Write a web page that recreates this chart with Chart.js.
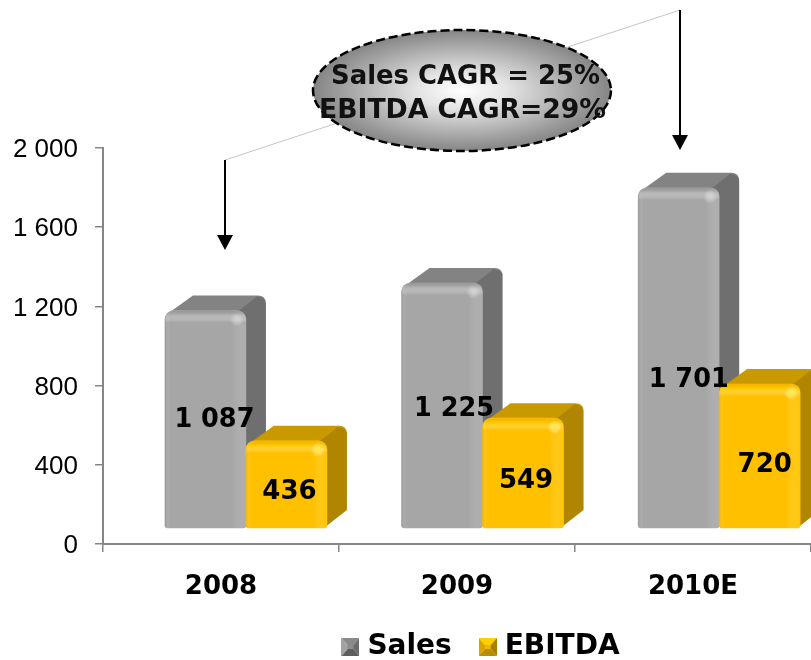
<!DOCTYPE html>
<html>
<head>
<meta charset="utf-8">
<style>html,body{margin:0;padding:0;background:#fff}canvas{display:block}</style>
<script src="https://cdn.jsdelivr.net/npm/chart.js@4"></script>
</head>
<body>
<canvas id="c" width="811" height="660"></canvas>
<script>
const categories = ['2008', '2009', '2010E'];
const salesValues = [1087, 1225, 1701];
const ebitdaValues = [436, 549, 720];
const yTickStep = 400;
const yMax = 2000;
const calloutLines = ['Sales CAGR = 25%', 'EBITDA CAGR=29%'];

const salesLabelShift = [[9, 1], [12, 4], [10, 22]];
const ebitdaLabelShift = [[3, 8], [3, 8], [5, 9]];

const BOLD = '"DejaVu Sans", sans-serif';
const fmt = v => String(v).replace(/\B(?=(\d{3})+(?!\d))/g, ' ');

function marker(left, top, right, bottom, core) {
  const s = 18, c = document.createElement('canvas');
  c.width = c.height = s;
  const g = c.getContext('2d');
  const tri = (col, pts) => {
    g.fillStyle = col; g.beginPath();
    pts.forEach((p, i) => i ? g.lineTo(p[0], p[1]) : g.moveTo(p[0], p[1]));
    g.closePath(); g.fill();
  };
  const m = [[6, 7], [12, 7], [12, 11], [6, 11]];
  tri(top, [[0, 0], [s, 0], m[1], m[0]]);
  tri(right, [[s, 0], [s, s], m[2], m[1]]);
  tri(bottom, [[s, s], [0, s], m[3], m[2]]);
  tri(left, [[0, s], [0, 0], m[0], m[3]]);
  tri(core, m);
  return c;
}
const salesMarker = marker('#a2a2a2', '#8a8a8a', '#6c6c6c', '#5e5e5e', '#8e8e8e');
const ebitdaMarker = marker('#d9a400', '#ffd000', '#a87f00', '#b88c00', '#f0b800');

const looks = [
  { top: '#838383', side: '#6f6f6f', edge: 'rgba(125,125,125,0.35)', shine: 'rgba(190,190,190,0.6)', soft: 'rgba(195,195,195,0.25)', glow: 'rgba(225,225,225,0.6)' },
  { top: '#c99a00', side: '#b08600', edge: 'rgba(225,160,0,0.35)', shine: 'rgba(255,208,0,0.7)', soft: 'rgba(255,212,0,0.35)', glow: 'rgba(255,236,40,0.9)' }
];

function drawDepth(ctx, el, look) {
  const l = el.x - el.width / 2, r = el.x + el.width / 2, t = el.y, b = el.base;
  const dx = 20, dy = 15, rad = 8;
  ctx.fillStyle = look.top;
  ctx.beginPath();
  ctx.moveTo(l + 3, t + 3);
  ctx.lineTo(l + 28, t - dy);
  ctx.lineTo(r + dx - rad, t - dy);
  ctx.quadraticCurveTo(r + dx, t - dy, r + dx, t - dy + rad);
  ctx.lineTo(r, t + 12);
  ctx.closePath();
  ctx.fill();
  ctx.fillStyle = look.side;
  ctx.beginPath();
  ctx.moveTo(r - 8, t + 1);
  ctx.lineTo(r + dx - 9, t - dy + 1);
  ctx.quadraticCurveTo(r + dx, t - dy + 2, r + dx, t - dy + rad + 1);
  ctx.lineTo(r + dx, b - 18);
  ctx.lineTo(r - 3, b);
  ctx.closePath();
  ctx.fill();
}

function drawBevel(ctx, el, look) {
  const l = el.x - el.width / 2, r = el.x + el.width / 2, t = el.y, b = el.base, w = el.width;
  ctx.save();
  ctx.beginPath();
  ctx.roundRect(l, t, w, b - t, [9, 9, 3, 3]);
  ctx.clip();
  let g = ctx.createLinearGradient(l, 0, l + 5, 0);
  g.addColorStop(0, look.edge);
  g.addColorStop(1, 'rgba(255,255,255,0)');
  ctx.fillStyle = g;
  ctx.fillRect(l, t, 5, b - t);
  g = ctx.createLinearGradient(r - 14, 0, r, 0);
  g.addColorStop(0, 'rgba(255,255,255,0)');
  g.addColorStop(1, look.soft);
  ctx.fillStyle = g;
  ctx.fillRect(r - 14, t, 14, b - t);
  g = ctx.createLinearGradient(0, t, 0, t + 12);
  g.addColorStop(0, look.edge);
  g.addColorStop(0.4, look.shine);
  g.addColorStop(1, 'rgba(255,255,255,0)');
  ctx.fillStyle = g;
  ctx.fillRect(l, t, w, 12);
  g = ctx.createRadialGradient(r - 9, t + 9, 0, r - 9, t + 9, 7);
  g.addColorStop(0, look.glow);
  g.addColorStop(1, 'rgba(255,255,255,0)');
  ctx.fillStyle = g;
  ctx.fillRect(r - 18, t, 18, 18);
  ctx.restore();
}

const depthBars = {
  id: 'depthBars',
  beforeDatasetsDraw(chart) {
    const ctx = chart.ctx;
    [0, 1].forEach(i => {
      const meta = chart.getDatasetMeta(i);
      meta.data.forEach(el => drawDepth(ctx, el, looks[i]));
      meta.controller.draw();
      meta.data.forEach(el => drawBevel(ctx, el, looks[i]));
    });
    return false;
  }
};

function arrow(ctx, x, y0, y1) {
  ctx.strokeStyle = '#000'; ctx.lineWidth = 2;
  ctx.beginPath(); ctx.moveTo(x, y0); ctx.lineTo(x, y1 - 12); ctx.stroke();
  ctx.fillStyle = '#000';
  ctx.beginPath(); ctx.moveTo(x - 8, y1 - 15); ctx.lineTo(x + 8, y1 - 15); ctx.lineTo(x, y1); ctx.closePath(); ctx.fill();
}

const annotations = {
  id: 'annotations',
  beforeDatasetsDraw(chart) {
    const ctx = chart.ctx;
    ctx.save();
    ctx.strokeStyle = '#c4c4c4'; ctx.lineWidth = 1;
    ctx.beginPath(); ctx.moveTo(225, 160); ctx.lineTo(680, 10); ctx.stroke();
    ctx.restore();
  },
  afterDraw(chart) {
    const ctx = chart.ctx;
    ctx.save();
    ctx.textAlign = 'center';
    ctx.textBaseline = 'middle';
    ctx.fillStyle = '#000';
    ctx.font = 'bold 26px ' + BOLD;
    [[salesValues, salesLabelShift, 0], [ebitdaValues, ebitdaLabelShift, 1]].forEach(([vals, shift, i]) => {
      chart.getDatasetMeta(i).data.forEach((el, k) => {
        ctx.fillText(fmt(vals[k]), el.x + shift[k][0], (el.y + el.base) / 2 + shift[k][1], i ? 56 : 80);
      });
    });
    arrow(ctx, 225, 160, 250);
    arrow(ctx, 680, 10, 150);

    const cx = 462, cy = 90.5, rx = 149, ry = 60.5;
    ctx.save();
    ctx.translate(cx, cy);
    ctx.scale(1, ry / rx);
    const g = ctx.createRadialGradient(0, 0, 0, 0, 0, rx);
    g.addColorStop(0, '#ffffff');
    g.addColorStop(0.3, '#e4e4e4');
    g.addColorStop(1, '#858585');
    ctx.fillStyle = g;
    ctx.beginPath(); ctx.arc(0, 0, rx, 0, Math.PI * 2); ctx.fill();
    ctx.restore();
    ctx.strokeStyle = '#000';
    ctx.lineWidth = 2.5;
    ctx.setLineDash([9, 4]);
    ctx.beginPath(); ctx.ellipse(cx, cy, rx, ry, 0, 0, Math.PI * 2); ctx.stroke();
    ctx.setLineDash([]);
    ctx.textBaseline = 'alphabetic';
    ctx.font = 'bold 27px ' + BOLD;
    ctx.fillStyle = '#111';
    ctx.fillText(calloutLines[0], 465.5, 84, 269);
    ctx.fillText(calloutLines[1], 462.5, 118, 287);
    ctx.restore();
  }
};

const legendShift = {
  id: 'legendShift',
  afterLayout(chart) {
    const lg = chart.legend;
    lg.left += 78; lg.right += 78;
    lg.top = 600; lg.bottom = 660;
    chart.scales.x.bottom = 620;
  }
};

const axisGray = '#868686';
new Chart(document.getElementById('c'), {
  type: 'bar',
  data: {
    labels: categories,
    datasets: [
      { label: 'Sales', data: salesValues.map((v, i) => ({ x: i, y: v })), xAxisID: 'x2', yAxisID: 'y2',
        backgroundColor: '#a6a6a6', borderWidth: 0, borderSkipped: false,
        borderRadius: { topLeft: 9, topRight: 9, bottomLeft: 3, bottomRight: 3 },
        pointStyle: salesMarker, barThickness: 81 },
      { label: 'EBITDA', data: ebitdaValues.map((v, i) => ({ x: i, y: v })), xAxisID: 'x2', yAxisID: 'y2',
        backgroundColor: '#ffc000', borderWidth: 0, borderSkipped: false,
        borderRadius: { topLeft: 9, topRight: 9, bottomLeft: 3, bottomRight: 3 },
        pointStyle: ebitdaMarker, barThickness: 81 }
    ]
  },
  options: {
    responsive: false,
    animation: false,
    events: [],
    layout: { padding: { top: 148, left: 0, right: 0, bottom: 0 } },
    plugins: {
      tooltip: { enabled: false },
      title: { display: false },
      legend: {
        display: true,
        position: 'bottom',
        labels: {
          usePointStyle: true,
          pointStyleWidth: 6,
          boxHeight: 18,
          padding: 33,
          color: '#000',
          font: { family: BOLD, size: 28, weight: 'bold' }
        }
      }
    },
    scales: {
      x: {
        type: 'category',
        position: 'bottom',
        offset: true,
        grid: { offset: true, drawOnChartArea: false, drawTicks: true, tickLength: 8, color: axisGray, lineWidth: 1.5 },
        border: { color: axisGray, width: 2 },
        ticks: { color: '#000', font: { family: BOLD, size: 26, weight: 'bold' }, padding: 20, maxRotation: 0 },
        afterFit(a) { a.height = 116 - a.chart.legend.height; }
      },
      y: {
        type: 'linear',
        position: 'left',
        min: 0,
        max: yMax,
        grid: { drawOnChartArea: false, drawTicks: true, tickLength: 8, color: axisGray, lineWidth: 1.5 },
        border: { color: axisGray, width: 2 },
        ticks: { stepSize: yTickStep, color: '#000', padding: 17, labelOffset: 2, font: { family: '"Liberation Sans", Arial, sans-serif', size: 26 }, callback: v => fmt(v) },
        afterFit(a) { a.width = 103; }
      },
      x2: { type: 'linear', display: false, offset: false, min: -0.604, max: 2.388 },
      y2: { type: 'linear', display: false, min: -80, max: 1900 }
    }
  },
  plugins: [annotations, depthBars, legendShift]
});
</script>
</body>
</html>
